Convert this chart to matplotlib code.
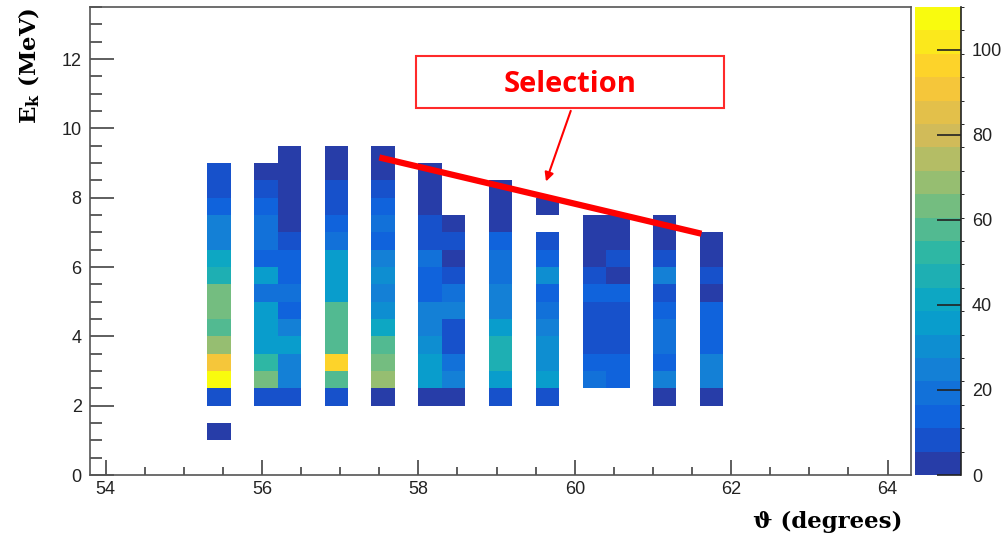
import numpy as np
import matplotlib
matplotlib.use('Agg')
import matplotlib.pyplot as plt
from matplotlib.colors import ListedColormap, BoundaryNorm
from matplotlib.patches import Rectangle
from matplotlib.ticker import MultipleLocator

# lower theta edge of each filled column (deg) and lower Ek edge of its first bin (MeV)
theta_lo = [55.3, 55.9, 56.2, 56.8, 57.4, 58.0, 58.3, 58.9, 59.5, 60.1, 60.4, 61.0, 61.6]
ek_lo = [1.0, 2.0, 2.0, 2.0, 2.0, 2.0, 2.0, 2.0, 2.0, 2.5, 2.5, 2.0, 2.0]

# counts per 0.5 MeV bin, going up from ek_lo
counts = [
    [3, 0, 8, 107, 91, 69, 58, 63, 63, 47, 41, 25, 25, 14, 8, 8],
    [8, 63, 52, 36, 36, 36, 19, 36, 14, 19, 19, 14, 8, 3],
    [8, 25, 25, 36, 25, 14, 19, 14, 14, 8, 3, 3, 3, 3, 3],
    [8, 58, 96, 58, 58, 58, 36, 36, 36, 19, 14, 8, 8, 3, 3],
    [3, 69, 63, 58, 41, 30, 25, 30, 25, 14, 19, 14, 8, 3, 3],
    [3, 36, 36, 30, 25, 25, 14, 14, 19, 8, 8, 3, 3, 3],
    [3, 25, 19, 8, 8, 25, 19, 8, 3, 8, 3],
    [8, 36, 47, 47, 36, 25, 25, 19, 19, 14, 3, 3, 3],
    [8, 36, 30, 30, 25, 19, 14, 30, 14, 8, 0, 3],
    [19, 14, 8, 8, 8, 14, 8, 3, 3, 3],
    [14, 14, 8, 8, 8, 14, 3, 8, 3, 3],
    [3, 25, 14, 19, 19, 14, 8, 25, 8, 3, 3],
    [3, 25, 25, 14, 14, 14, 3, 8, 3, 3],
]

# selection line end points
sel_theta = [57.5, 61.62]
sel_ek = [9.16, 6.96]

xedges = np.linspace(53.8, 64.3, 36)
yedges = np.linspace(0.0, 13.5, 28)

xs, ys, ws = [], [], []
for t, e0, col in zip(theta_lo, ek_lo, counts):
    for k, c in enumerate(col):
        xs.append(t + 0.15)
        ys.append(e0 + 0.5 * k + 0.25)
        ws.append(c)
H, _, _ = np.histogram2d(xs, ys, bins=[xedges, yedges], weights=ws)
H = np.ma.masked_equal(H.T, 0)

# ROOT kBird palette, 20 contour levels
stops = [0.0, 0.125, 0.25, 0.375, 0.5, 0.625, 0.75, 0.875, 1.0]
red = [0.2082, 0.0592, 0.0780, 0.0232, 0.1802, 0.5301, 0.8186, 0.9956, 0.9764]
green = [0.1664, 0.3599, 0.5041, 0.6419, 0.7178, 0.7492, 0.7328, 0.7862, 0.9832]
blue = [0.5293, 0.8684, 0.8385, 0.7914, 0.6425, 0.4662, 0.3499, 0.1968, 0.0539]
f = np.linspace(0, 1, 255)
full = np.stack([np.interp(f, stops, red), np.interp(f, stops, green), np.interp(f, stops, blue)], axis=1)
ndiv = 20
idx = [min(int((i + 0.99) * 255 / ndiv), 254) for i in range(ndiv)]
cmap = ListedColormap(full[idx])
levels = np.linspace(0, 110, ndiv + 1)
norm = BoundaryNorm(levels, ndiv)

fig = plt.figure(figsize=(10.08, 5.38), dpi=100)
ax = fig.add_axes([90 / 1008, 63 / 538, 821 / 1008, 468 / 538])
cax = fig.add_axes([915 / 1008, 63 / 538, 46 / 1008, 468 / 538])

mesh = ax.pcolormesh(xedges, yedges, H, cmap=cmap, norm=norm, edgecolors='none')
ax.set_xlim(53.8, 64.3)
ax.set_ylim(0, 13.5)

ax.xaxis.set_major_locator(MultipleLocator(2))
ax.xaxis.set_minor_locator(MultipleLocator(0.5))
ax.yaxis.set_major_locator(MultipleLocator(2))
ax.yaxis.set_minor_locator(MultipleLocator(0.5))
ax.tick_params(axis='x', which='major', direction='in', length=11, width=1.1, pad=4, color='#333333')
ax.tick_params(axis='x', which='minor', direction='in', length=5.5, width=1.1, color='#333333')
ax.tick_params(axis='y', which='major', direction='in', length=17, width=1.1, pad=6, color='#333333')
ax.tick_params(axis='y', which='minor', direction='in', length=8.5, width=1.1, color='#333333')
for lab in ax.get_xticklabels() + ax.get_yticklabels():
    lab.set_fontfamily('Liberation Sans')
    lab.set_fontsize(13)
    lab.set_color('#222222')
for sp in ax.spines.values():
    sp.set_color('#555555')
    sp.set_linewidth(1.2)

# selection line, box and arrow
ax.plot(sel_theta, sel_ek, color='#ff0000', lw=4.5, solid_capstyle='butt')
ax.add_patch(Rectangle((57.97, 10.58), 3.94, 1.51, fill=False, edgecolor='#ff2a2a', lw=1.5))
ax.text(59.94, 11.27, 'Selection', color='#ff0000', fontsize=21, fontweight='bold',
        family='Open Sans', ha='center', va='center')
ax.annotate('', xy=(59.62, 8.39), xytext=(59.96, 10.58),
            arrowprops=dict(arrowstyle='-|>', color='#ff0000', lw=1.5, mutation_scale=13))

cb = fig.colorbar(mesh, cax=cax, ticks=[0, 20, 40, 60, 80, 100])
cb.outline.set_visible(False)
cax.plot([1, 1], [0, 1], transform=cax.transAxes, color='#222222', lw=1.2, clip_on=False)
cax.tick_params(direction='in', length=17, width=1.2, pad=8, color='#222222')
for lab in cax.get_yticklabels():
    lab.set_fontfamily('Liberation Sans')
    lab.set_fontsize(13)
    lab.set_color('#222222')

plt.rcParams['mathtext.fontset'] = 'dejavuserif'
fig.text(29 / 1008, 1 - 66 / 538, r'$\mathbf{E_k}$ (MeV)', rotation=90, ha='center', va='center',
         family='DejaVu Serif', fontweight='bold', fontsize=16.5)
fig.text(828 / 1008, 1 - 522 / 538, '\u03d1 (degrees)', ha='center', va='center',
         family='DejaVu Serif', fontweight='bold', fontsize=16.5)

fig.savefig('out.png', dpi=100)
